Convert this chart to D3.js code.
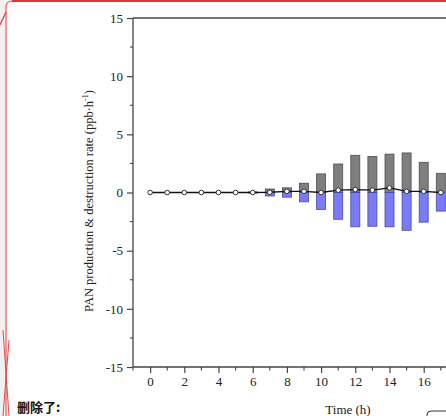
<!DOCTYPE html>
<html><head><meta charset="utf-8">
<script src="https://cdn.jsdelivr.net/npm/d3@7"></script>
<style>body{margin:0;background:#fff}svg{display:block}</style>
</head><body>
<script>
const hours = [0,1,2,3,4,5,6,7,8,9,10,11,12,13,14,15,16,17];
const production = [0,0,0,0,0,0,0.05,0.3,0.4,0.8,1.6,2.45,3.2,3.1,3.3,3.4,2.6,1.65];
const destruction = [0,0,0,0,0,0,-0.05,-0.3,-0.4,-0.8,-1.45,-2.3,-2.95,-2.9,-2.95,-3.25,-2.55,-1.6];
const netRate = [0,0,0,0,0,0,0,0.02,0.1,0.1,0,0.2,0.25,0.2,0.4,0.1,0.1,0];
const xTickLabels = [0,2,4,6,8,10,12,14,16];
const yTickLabels = [15,10,5,0,-5,-10,-15];

const W=446,H=416;
const svg=d3.select("body").append("svg").attr("width",W).attr("height",H);
svg.append("rect").attr("width",W).attr("height",H).attr("fill","#fff");

// page artifacts
svg.append("rect").attr("x",0).attr("y",0).attr("width",5).attr("height",H).attr("fill","#f1f1f1");
svg.append("path").attr("d","M6,416 L6,7 Q6,1 12,1 L446,1").attr("fill","none").attr("stroke","#e77").attr("stroke-width",1.5);
svg.append("line").attr("x1",12).attr("y1",1).attr("x2",446).attr("y2",1).attr("stroke","#d9363e").attr("stroke-width",2);
svg.append("line").attr("x1",0).attr("y1",25).attr("x2",6).attr("y2",12).attr("stroke","#d9363e").attr("stroke-width",1.2);
svg.append("line").attr("x1",3).attr("y1",330).attr("x2",9).attr("y2",416).attr("stroke","#e04a4a").attr("stroke-width",1);
svg.append("line").attr("x1",9).attr("y1",340).attr("x2",3).attr("y2",416).attr("stroke","#e04a4a").attr("stroke-width",1);
svg.append("text").attr("x",17).attr("y",412).attr("font-family","Noto Sans CJK SC").attr("font-weight","bold").attr("font-size",13).attr("fill","#111").text("删除了:");
svg.append("rect").attr("x",427).attr("y",411).attr("width",40).attr("height",20).attr("rx",4).attr("fill","none").attr("stroke","#333").attr("stroke-width",1);

const x=d3.scaleLinear().domain([-1,18]).range([133,133+19*17.1]);
const y=d3.scaleLinear().domain([-15,15]).range([367,18]);
const font="Liberation Serif, Times New Roman, serif";
const axisColor="#444";

// bars
const bw=9;
const g=svg.append("g");
g.selectAll(".p").data(hours).join("rect")
  .attr("x",d=>x(d)-bw/2).attr("width",bw)
  .attr("y",(d,i)=>y(production[i])).attr("height",(d,i)=>y(0)-y(production[i]))
  .attr("fill","#7f7f7f").attr("stroke","#4d4d4d").attr("stroke-width",0.8);
g.selectAll(".d").data(hours).join("rect")
  .attr("x",d=>x(d)-bw/2).attr("width",bw)
  .attr("y",y(0)).attr("height",(d,i)=>y(destruction[i])-y(0))
  .attr("fill","#7b7bf7").attr("stroke","#4848a8").attr("stroke-width",0.8);

// net line
const line=d3.line().x((d,i)=>x(hours[i])).y(d=>y(d));
g.append("path").datum(netRate).attr("d",line).attr("fill","none").attr("stroke","#111").attr("stroke-width",1.4);
g.selectAll(".m").data(netRate).join("circle")
  .attr("cx",(d,i)=>x(hours[i])).attr("cy",d=>y(d)).attr("r",2.3)
  .attr("fill","#fff").attr("stroke","#333").attr("stroke-width",1);

// axes
const yAx=svg.append("g").attr("transform","translate(133,0)")
  .call(d3.axisLeft(y).tickValues(yTickLabels).tickSize(6).tickPadding(4).tickFormat(d=>String(d)));
const xAx=svg.append("g").attr("transform","translate(0,367)")
  .call(d3.axisBottom(x).tickValues(xTickLabels).tickSize(6).tickPadding(4).tickFormat(d=>String(d)));
[yAx,xAx].forEach(a=>{
  a.select(".domain").attr("stroke",axisColor).attr("stroke-width",1.3);
  a.selectAll(".tick line").attr("stroke",axisColor).attr("stroke-width",1.2);
  a.selectAll(".tick text").attr("font-family",font).attr("font-size",13).attr("fill","#222");
});
xAx.select(".domain").attr("d",`M133,0H${W}`);
yAx.select(".domain").attr("d",`M0,${y(15)}V${y(-15)}`);
// minor ticks
const yMinor=d3.range(-12.5,15,5);
svg.append("g").selectAll("line").data(yMinor).join("line")
  .attr("x1",130).attr("x2",133).attr("y1",d=>y(d)).attr("y2",d=>y(d)).attr("stroke",axisColor).attr("stroke-width",1.1);
const xMinor=d3.range(-1,19,2);
svg.append("g").selectAll("line").data(xMinor).join("line")
  .attr("y1",367).attr("y2",370.5).attr("x1",d=>x(d)).attr("x2",d=>x(d)).attr("stroke",axisColor).attr("stroke-width",1.1);
// top frame
svg.append("line").attr("x1",133).attr("x2",W).attr("y1",y(15)).attr("y2",y(15)).attr("stroke",axisColor).attr("stroke-width",1.6);

// labels
svg.append("text").attr("x",348).attr("y",414).attr("text-anchor","middle")
  .attr("font-family",font).attr("font-size",13).attr("fill","#222").text("Time (h)");
const yl=svg.append("text").attr("transform","translate(93,201) rotate(-90)").attr("text-anchor","middle")
  .attr("font-family",font).attr("font-size",12.5).attr("fill","#222");
yl.append("tspan").text("PAN production & destruction rate (ppb·h");
yl.append("tspan").attr("dy",-5).attr("font-size",8).text("-1");
yl.append("tspan").attr("dy",5).text(")");
</script>
</body></html>
